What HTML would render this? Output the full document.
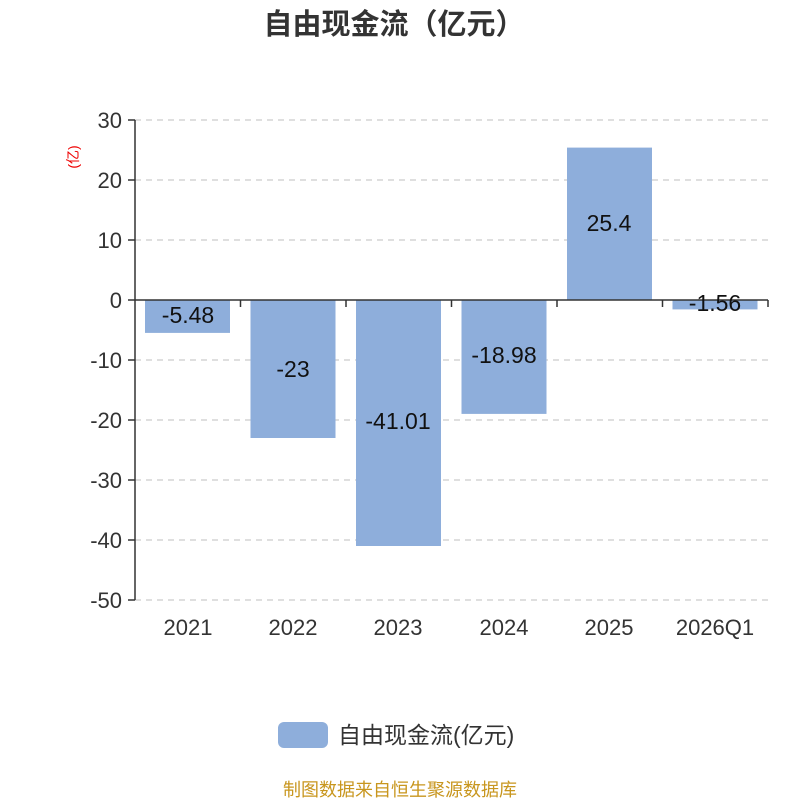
<!DOCTYPE html>
<html><head><meta charset="utf-8"><style>
body{margin:0;background:#fff;width:800px;height:800px;overflow:hidden}
svg text{font-family:"Liberation Sans","Noto Sans CJK SC",sans-serif}
</style></head><body>
<svg width="800" height="800" xmlns="http://www.w3.org/2000/svg">
<text x="394" y="34" text-anchor="middle" font-size="29" font-weight="bold" fill="#333">自由现金流（亿元）</text>
<text transform="translate(78,157) rotate(-90)" text-anchor="middle" font-size="14" fill="#e00">(亿)</text>
<g stroke="#ccc" stroke-dasharray="6,5" stroke-width="1.2">
<line x1="135" y1="120" x2="768" y2="120"/><line x1="135" y1="180" x2="768" y2="180"/>
<line x1="135" y1="240" x2="768" y2="240"/><line x1="135" y1="360" x2="768" y2="360"/>
<line x1="135" y1="420" x2="768" y2="420"/><line x1="135" y1="480" x2="768" y2="480"/>
<line x1="135" y1="540" x2="768" y2="540"/><line x1="135" y1="600" x2="768" y2="600"/>
</g>
<g fill="#8eaedb">
<rect x="145" y="300" width="85" height="32.9"/>
<rect x="250.5" y="300" width="85" height="138"/>
<rect x="356" y="300" width="85" height="246"/>
<rect x="461.5" y="300" width="85" height="113.9"/>
<rect x="567" y="147.6" width="85" height="152.4"/>
<rect x="672.5" y="300" width="85" height="9.4"/>
</g>
<g stroke="#333" stroke-width="1.5">
<line x1="135" y1="120" x2="135" y2="600"/>
<line x1="135" y1="300" x2="768" y2="300"/>
<line x1="128" y1="120" x2="135" y2="120"/><line x1="128" y1="180" x2="135" y2="180"/>
<line x1="128" y1="240" x2="135" y2="240"/><line x1="128" y1="300" x2="135" y2="300"/>
<line x1="128" y1="360" x2="135" y2="360"/><line x1="128" y1="420" x2="135" y2="420"/>
<line x1="128" y1="480" x2="135" y2="480"/><line x1="128" y1="540" x2="135" y2="540"/>
<line x1="128" y1="600" x2="135" y2="600"/>
<line x1="240.5" y1="300" x2="240.5" y2="307"/><line x1="346" y1="300" x2="346" y2="307"/>
<line x1="451.5" y1="300" x2="451.5" y2="307"/><line x1="557" y1="300" x2="557" y2="307"/>
<line x1="662.5" y1="300" x2="662.5" y2="307"/><line x1="768" y1="300" x2="768" y2="307"/>
</g>
<g font-size="22" fill="#333" text-anchor="end">
<text x="122" y="128">30</text><text x="122" y="188">20</text><text x="122" y="248">10</text>
<text x="122" y="308">0</text><text x="122" y="368">-10</text><text x="122" y="428">-20</text>
<text x="122" y="488">-30</text><text x="122" y="548">-40</text><text x="122" y="608">-50</text>
</g>
<g font-size="22" fill="#333" text-anchor="middle">
<text x="188" y="635">2021</text><text x="293" y="635">2022</text><text x="398" y="635">2023</text>
<text x="504" y="635">2024</text><text x="609" y="635">2025</text><text x="715" y="635">2026Q1</text>
</g>
<g font-size="23" fill="#111" text-anchor="middle">
<text x="188" y="323">-5.48</text><text x="293" y="377">-23</text><text x="398" y="429">-41.01</text>
<text x="504" y="363">-18.98</text><text x="609" y="231">25.4</text><text x="715" y="311">-1.56</text>
</g>
<rect x="278" y="722" width="50" height="26" rx="6" fill="#8eaedb"/>
<text x="338" y="743" font-size="23" fill="#333">自由现金流(亿元)</text>
<text x="400" y="796" text-anchor="middle" font-size="18" fill="#c8961e">制图数据来自恒生聚源数据库</text>
</svg>
</body></html>
